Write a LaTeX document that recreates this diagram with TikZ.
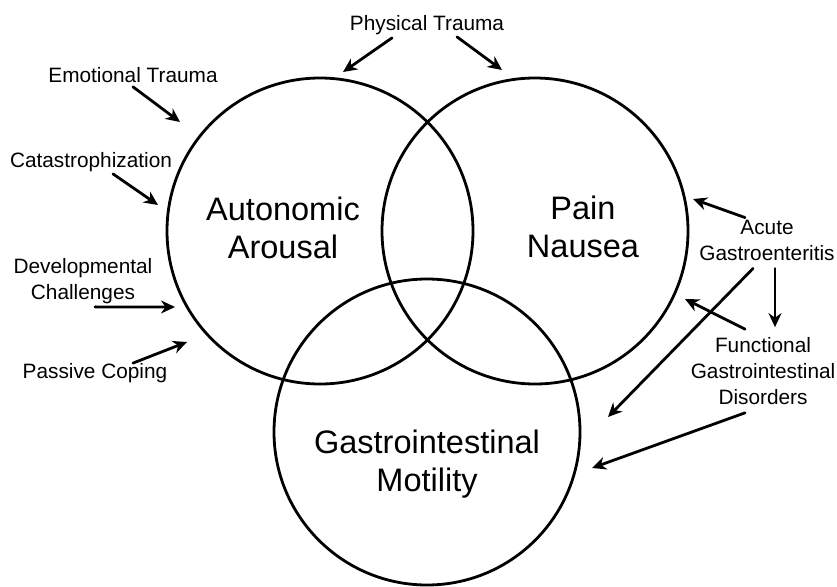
\documentclass[tikz,border=0pt]{standalone}
\usepackage{fontspec}
\setmainfont{Liberation Sans}
\usepackage{tikz}
\usetikzlibrary{arrows.meta,positioning,calc}
\tikzset{
    every picture/.style={line cap=round,line join=round},
    venncircle/.style={draw=black,circle,line width=2.8pt,
      minimum size=306pt,inner sep=0pt},
    bigtext/.style={font=\fontsize{32.5}{38}\selectfont,align=center,inner sep=2pt},
    factor/.style={font=\fontsize{20.8}{26}\selectfont,align=center,inner sep=2pt},
    flowarrow/.style={-{Stealth[length=14pt,width=13pt,inset=4.5pt]},draw=black,
      line width=2.8pt}
}

\begin{document}
\begin{tikzpicture}[x=1pt,y=-1pt]
  \useasboundingbox (0,0) rectangle (837,586);
  % circles
  \node[venncircle] (arousal) at (320,231) {};
  \node[venncircle] (pain) at (535,231) {};
  \node[venncircle] (motility) at (427,432) {};
  \node[bigtext] (aatext) at (283,228) {Autonomic\\Arousal};
  \node[bigtext] (pntext) at (583,227) {Pain\\Nausea};
  \node[bigtext] (gmtext) at (427,464) {Gastrointestinal\\Motility};
  % factors
  \node[factor] (phys) at (427,25) {Physical Trauma};
  \node[factor] (emo) at (133,75) {Emotional Trauma};
  \node[factor] (cat) at (91,162) {Catastrophization};
  \node[factor] (dev) at (83,281) {Developmental\\Challenges};
  \node[factor] (pas) at (95,373) {Passive Coping};
  \node[factor] (acute) at (767,240) {Acute\\Gastroenteritis};
  \node[factor] (fgid) at (763,371) {Functional\\Gastrointestinal\\Disorders};
  % arrow tips
  \coordinate (physA) at (343,72);
  \coordinate (physP) at (502,70);
  \coordinate (emoA) at (180,122);
  \coordinate (catA) at (158,205);
  \coordinate (devA) at (175,307);
  \coordinate (pasA) at (187,342);
  \coordinate (acuteP) at (693,199);
  \coordinate (acuteM) at (608,417);
  \coordinate (fgidP) at (685,299);
  \coordinate (fgidM) at (592,468);
  \draw[flowarrow] ($(phys.south)+(-35,1)$) -- (physA);
  \draw[flowarrow] ($(phys.south)+(30,0)$) -- (physP);
  \draw[flowarrow] ($(emo.south)+(0,2)$) -- (emoA);
  \draw[flowarrow] ($(cat.south)+(22,0)$) -- (catA);
  \draw[flowarrow] ($(dev.south)+(12,1)$) -- (devA);
  \draw[flowarrow] ($(pas.north)+(38,2)$) -- (pasA);
  \draw[flowarrow] ($(acute.north)+(-22,0)$) -- (acuteP);
  \draw[flowarrow] ($(acute.south)+(8,6)$) -- ($(fgid.north)+(12,-8)$);
  \draw[flowarrow] ($(acute.south)+(-14,6)$) -- (acuteM);
  \draw[flowarrow] ($(fgid.north)+(-18,-6)$) -- (fgidP);
  \draw[flowarrow] ($(fgid.south)+(-18,6)$) -- (fgidM);
\end{tikzpicture}
\end{document}
